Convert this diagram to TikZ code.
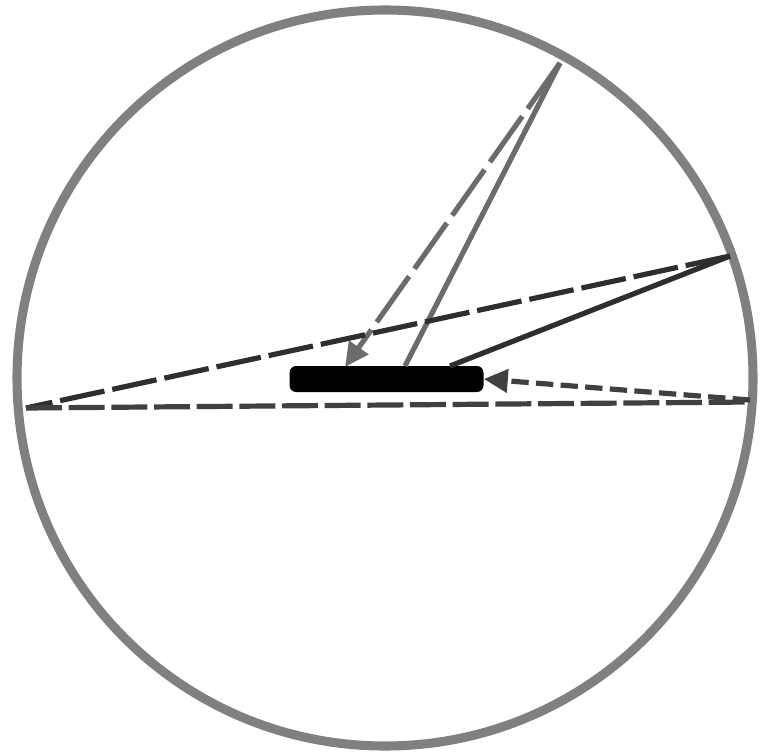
\documentclass[tikz,border=0pt]{standalone}
\usetikzlibrary{arrows.meta}
\begin{document}
\begin{tikzpicture}[x=0.75pt,y=-0.75pt,
  ray/.style={line width=3.9pt},
  tip/.style={-{Triangle[length=18pt,width=17pt]}}]
\useasboundingbox (0,0) rectangle (760,756);
\definecolor{ringc}{gray}{0.5}
\definecolor{rayA}{gray}{0.42}
\definecolor{rayB}{gray}{0.18}
\definecolor{rayC}{gray}{0.25}
\coordinate (A) at (560,63);
\coordinate (B) at (730,256);
\coordinate (L) at (26,408);
\coordinate (R) at (750,400);
\coordinate (Rb) at (750,402);
\node[draw=ringc,line width=6.8pt,circle,minimum size=552pt,inner sep=0pt] (ring) at (385,378) {};
\node[fill=black,rounded corners=5pt,minimum width=145.5pt,minimum height=19.5pt,inner sep=0pt] (rod) at (386.5,379) {};
\coordinate (hitA) at (345,367);
\coordinate (hitA2) at (405,366);
\coordinate (hitB) at (450,366);
\draw[ray,rayA,dash pattern=on 42pt off 7pt,tip] (A) -- (hitA);
\draw[ray,rayA] (A) -- (hitA2);
\draw[ray,rayB,dash pattern=on 34pt off 6pt] (B) -- (L);
\draw[ray,rayB] (B) -- (hitB);
\draw[ray,rayC,dash pattern=on 27pt off 5pt] (L) -- (Rb);
\draw[ray,rayC,dash pattern=on 13pt off 5.5pt,tip] (R) -- (rod.east);
\end{tikzpicture}
\end{document}
